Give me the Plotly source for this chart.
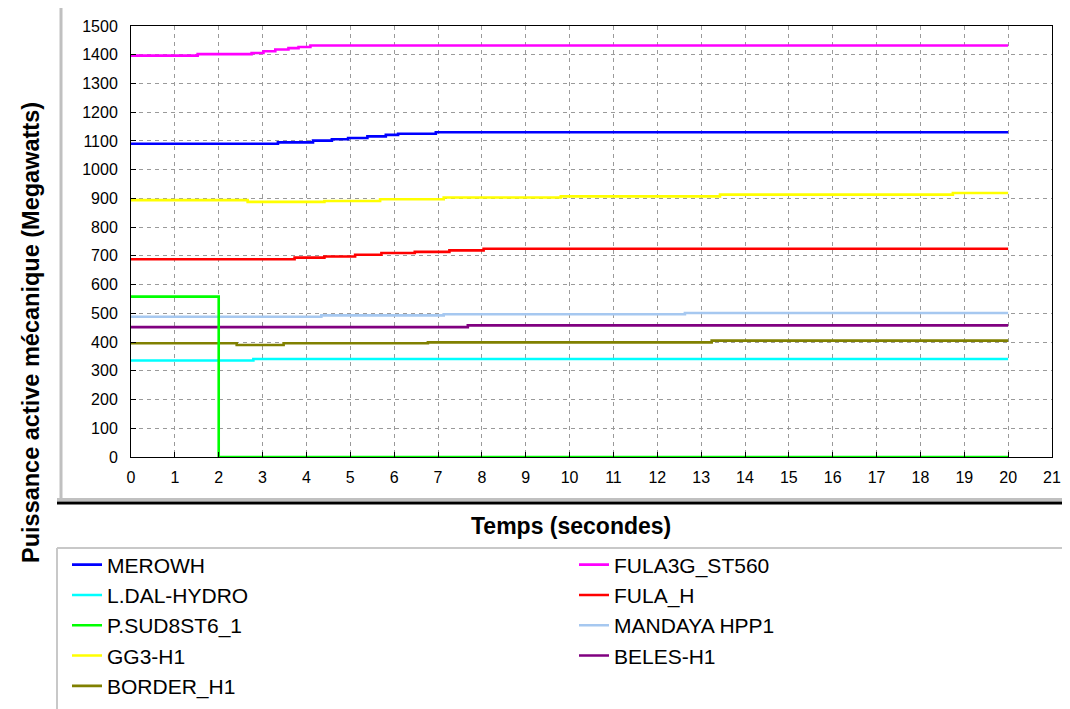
import plotly.graph_objects as go

# ---------------- data (step-change times in s, power in MW) ----------------
merowh_t = [0, 3.35, 4.15, 4.58, 4.95, 5.39, 5.81, 6.09, 6.95, 20]
merowh_v = [1090, 1095, 1101, 1106, 1110, 1116, 1121, 1125, 1130, 1130]

fula3g_t = [0, 1.52, 2.75, 3.02, 3.29, 3.59, 3.82, 4.09, 20]
fula3g_v = [1397, 1402, 1406, 1412, 1418, 1423, 1427, 1432, 1432]

ldal_t = [0, 2.79, 20]
ldal_v = [336, 341, 341]

fulah_t = [0, 3.73, 4.41, 5.11, 5.71, 6.47, 7.26, 8.04, 20]
fulah_v = [688, 694, 698, 704, 710, 714, 719, 725, 725]

psud_t = [0, 2, 20]
psud_v = [558, 0, 0]

mandaya_t = [0, 4.34, 7.13, 12.63, 20]
mandaya_v = [488, 493, 497, 501, 501]

gg3_t = [0, 2.66, 4.41, 5.68, 7.13, 9.8, 13.43, 18.74, 20]
gg3_v = [894, 888, 891, 897, 903, 907, 913, 919, 919]

beles_t = [0, 7.68, 20]
beles_v = [452, 458, 458]

border_t = [0, 2.41, 3.48, 6.77, 13.24, 20]
border_v = [396, 390, 396, 399, 405, 405]

x_ticks = list(range(0, 22))
y_ticks = list(range(0, 1600, 100))

# (name, t, v, color, legend rank) ; drawing order = list order
series = [
    ("MEROWH", merowh_t, merowh_v, "#0000ff", 1),
    ("FULA3G_ST560", fula3g_t, fula3g_v, "#ff00ff", 2),
    ("L.DAL-HYDRO", ldal_t, ldal_v, "#00ffff", 3),
    ("FULA_H", fulah_t, fulah_v, "#ff0000", 4),
    ("MANDAYA HPP1", mandaya_t, mandaya_v, "#a6c8f0", 6),
    ("GG3-H1", gg3_t, gg3_v, "#ffff00", 7),
    ("BELES-H1", beles_t, beles_v, "#800080", 8),
    ("BORDER_H1", border_t, border_v, "#808000", 9),
    ("P.SUD8ST6_1", psud_t, psud_v, "#00ff00", 5),
]

FONT = "Liberation Sans, Arial, sans-serif"
OFF = 8  # default page margin of the html body
W, H = 1070 - OFF, 709 - OFF
L, R, T, B = 131 - OFF, 18, 26 - OFF, 252
PW, PH = W - L - R, H - T - B


def px(x):
    # screen pixel x -> paper coordinate
    return (x - OFF - L) / PW


def py(y):
    # screen pixel y -> paper coordinate
    return (H - B - (y - OFF)) / PH


fig = go.Figure()
for name, t, v, col, rank in series:
    fig.add_trace(go.Scatter(
        x=t, y=v, mode="lines", name=name, line=dict(color=col, width=2.6, shape="hv"),
        legendrank=rank,
    ))

axis_common = dict(
    showline=True, linecolor="black", linewidth=1, mirror=True,
    ticks="inside", ticklen=5, tickcolor="black", tickwidth=1,
    showgrid=True, gridcolor="#9a9a9a", gridwidth=1, griddash="4px,4px",
    zeroline=False, tickfont=dict(family=FONT, size=16, color="black"),
)

fig.update_xaxes(range=[0, 21], tickvals=x_ticks, ticklabelstandoff=6, **axis_common)
fig.update_yaxes(range=[0, 1500], tickvals=y_ticks, ticklabelstandoff=9, **axis_common)

shapes = [
    # grey left frame bar
    dict(type="line", xref="paper", yref="paper", x0=px(61), x1=px(61), y0=py(5), y1=py(499),
         line=dict(color="#c0c0c0", width=3)),
    # grey + black bottom frame bar
    dict(type="line", xref="paper", yref="paper", x0=px(57), x1=px(1075), y0=py(499.5), y1=py(499.5),
         line=dict(color="#c0c0c0", width=3)),
    dict(type="line", xref="paper", yref="paper", x0=px(57), x1=px(1075), y0=py(503), y1=py(503),
         line=dict(color="black", width=3)),
    # legend box borders
    dict(type="line", xref="paper", yref="paper", x0=px(57), x1=px(1075), y0=py(548), y1=py(548),
         line=dict(color="#c8c8c8", width=2)),
    dict(type="line", xref="paper", yref="paper", x0=px(57), x1=px(57), y0=py(548), y1=py(715),
         line=dict(color="#c8c8c8", width=2)),
]

annotations = [
    dict(text="<b>Temps (secondes)</b>", xref="paper", yref="paper", x=px(571), y=py(526),
         showarrow=False, xanchor="center", yanchor="middle",
         font=dict(family=FONT, size=23, color="black")),
    dict(text="<b>Puissance active mécanique (Megawatts)</b>", xref="paper", yref="paper",
         x=px(31), y=py(333), textangle=-90, showarrow=False, xanchor="center", yanchor="middle",
         font=dict(family=FONT, size=23.5, color="black")),
]

fig.update_layout(
    width=W, height=H,
    margin=dict(l=L, r=R, t=T, b=B, autoexpand=False),
    paper_bgcolor="white", plot_bgcolor="white",
    shapes=shapes, annotations=annotations,
    showlegend=True,
    legend=dict(
        orientation="h", x=px(67), xanchor="left", y=py(544.5), yanchor="top",
        entrywidth=462, entrywidthmode="pixels", traceorder="normal",
        font=dict(family=FONT, size=21, color="black"),
        bgcolor="rgba(0,0,0,0)", borderwidth=0,
    ),
)

fig.write_html("out.html")
